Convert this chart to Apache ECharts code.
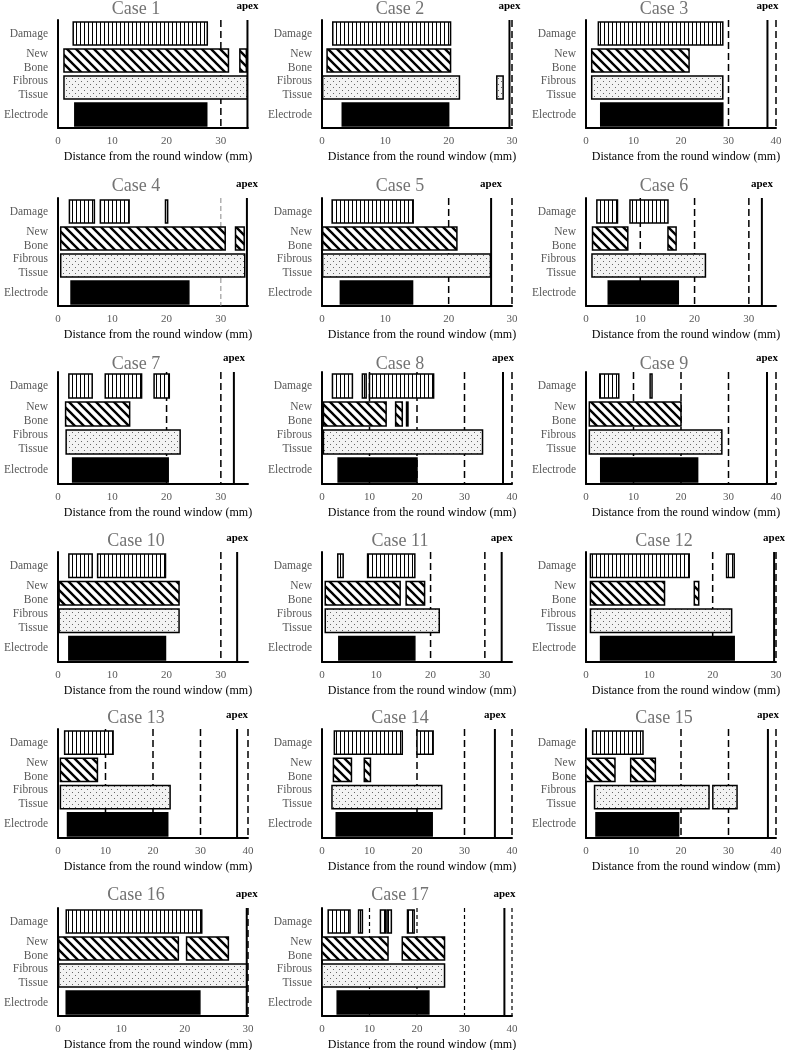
<!DOCTYPE html>
<html><head><meta charset="utf-8">
<script src="https://cdn.jsdelivr.net/npm/echarts/dist/echarts.min.js"></script>
<style>html,body{margin:0;padding:0;background:#fff}#chart{width:786px;height:1050px}</style>
</head><body><div id="chart"></div>
<script>
// ---------------- DATA ----------------
const caseNames = ['Case 1','Case 2','Case 3','Case 4','Case 5','Case 6','Case 7','Case 8','Case 9',
  'Case 10','Case 11','Case 12','Case 13','Case 14','Case 15','Case 16','Case 17'];
const categories = ['Damage', 'New\nBone', 'Fibrous\nTissue', 'Electrode'];
const axisTitle = 'Distance from the round window (mm)';
const tickStep = 10;
const axisMax = [35,30,40,35,30,35,35,40,40,35,35,30,40,40,40,30,40];
const apexPos = [34.9,29.6,38.2,34.8,26.7,32.4,32.4,38.1,38.1,33.0,33.1,29.7,37.7,36.4,38.3,29.8,38.4];
const dashedPos = [[30],[30],[30,40],[30],[20,30],[10,20,30],[20,30],[10,20,30,40],[10,20,30,40],
  [30],[20,30],[20,30],[10,20,30,40],[20,30,40],[20,30,40],[30],[10,20,30,40]];
const damage = [
  [[2.8,27.5]],
  [[1.7,20.3]],
  [[2.6,28.8]],
  [[2.1,6.7],[7.8,13.1],[19.8,20.2]],
  [[1.6,14.4]],
  [[2.0,5.8],[8.1,15.1]],
  [[2.0,6.3],[8.7,15.4],[17.7,20.5]],
  [[2.2,6.4],[8.5,9.3],[10.0,23.5]],
  [[2.9,6.9],[13.5,13.9]],
  [[2.0,6.3],[7.3,19.8]],
  [[2.9,3.9],[8.4,17.1]],
  [[0.7,16.3],[22.2,23.4]],
  [[1.4,11.6]],
  [[2.6,16.9],[20.0,23.4]],
  [[1.4,12.0]],
  [[1.3,22.7]],
  [[1.3,5.9],[7.7,8.5],[12.3,13.4],[13.7,14.6],[18.0,19.4]]
];
const newBone = [
  [[1.1,31.4],[33.5,34.7]],
  [[0.8,20.3]],
  [[1.2,21.7]],
  [[0.5,30.8],[32.7,34.3]],
  [[0.1,21.3]],
  [[1.2,7.7],[15.1,16.6]],
  [[1.4,13.2]],
  [[0.3,13.5],[15.5,16.9],[17.8,18.1]],
  [[0.7,20.0]],
  [[0.2,22.3]],
  [[0.6,14.4],[15.5,18.9]],
  [[0.7,12.4],[17.1,17.8]],
  [[0.5,8.3]],
  [[2.4,6.2],[8.9,10.2]],
  [[0.0,6.1],[9.4,14.6]],
  [[0.1,19.0],[20.3,26.9]],
  [[0.0,13.9],[16.9,25.8]]
];
const fibrous = [
  [[1.1,34.9]],
  [[0.1,21.7],[27.6,28.6]],
  [[1.2,28.8]],
  [[0.5,34.4]],
  [[0.1,26.6]],
  [[1.1,22.0]],
  [[1.5,22.5]],
  [[0.3,33.8]],
  [[0.7,28.6]],
  [[0.2,22.3]],
  [[0.6,21.6]],
  [[0.7,23.0]],
  [[0.5,23.6]],
  [[2.1,25.2]],
  [[1.8,25.9],[26.7,31.8]],
  [[0.1,29.8]],
  [[0.0,25.8]]
];
const electrode = [
  [[3.1,27.4]],[[3.2,20.0]],[[3.1,28.8]],[[2.4,24.1]],[[2.9,14.3]],[[4.1,17.0]],
  [[2.7,20.3]],[[3.4,20.0]],[[3.1,23.5]],[[2.0,19.8]],[[3.1,17.1]],[[2.3,23.4]],
  [[2.0,23.1]],[[3.0,23.2]],[[2.1,19.5]],[[1.3,22.4]],[[3.2,22.5]]
];

// ---------------- LAYOUT / STYLE ----------------
const colLeft = [58, 322, 586];
const plotWidth = 190;
const rowTop = [20, 198, 372, 552, 729, 908];
const rowHeight = [108, 108, 112, 110, 109, 108];
const rowTitleY = [9, 186, 364, 541, 718, 895];
const FONT = '"Liberation Serif", "Times New Roman", serif';
const dashStyle = {};          // default style
const dashStyleOverride = {3: {stroke:'#888', lineWidth:1, lineDash:[5,3]}, 16: {stroke:'#000', lineWidth:1.2, lineDash:[4,3]}};

function makePattern(kind) {
  const c = document.createElement('canvas');
  const ctx = c.getContext('2d');
  if (kind === 'vert') {
    c.width = 4; c.height = 4;
    ctx.fillStyle = '#fff'; ctx.fillRect(0,0,4,4);
    ctx.fillStyle = '#000'; ctx.fillRect(0,0,1,4);
  } else if (kind === 'diag') {
    const s = 9;
    c.width = s; c.height = s;
    ctx.fillStyle = '#fff'; ctx.fillRect(0,0,s,s);
    ctx.strokeStyle = '#000'; ctx.lineWidth = 2.4;
    ctx.beginPath();
    ctx.moveTo(-2,-2); ctx.lineTo(s+2,s+2);
    ctx.moveTo(-2,s-2); ctx.lineTo(2,s+2);
    ctx.moveTo(s-2,-2); ctx.lineTo(s+2,2);
    ctx.stroke();
  } else if (kind === 'dots') {
    c.width = 6; c.height = 6;
    ctx.fillStyle = '#f3f3f3'; ctx.fillRect(0,0,6,6);
    ctx.fillStyle = '#666'; ctx.fillRect(0,0,1,1); ctx.fillRect(3,3,1,1);
  }
  return {image: c, repeat: 'repeat'};
}
const fills = [makePattern('vert'), makePattern('diag'), makePattern('dots'), '#000'];

// ---------------- BUILD OPTION ----------------
const grids = [], xAxes = [], yAxes = [], series = [], graphics = [];
caseNames.forEach((name, i) => {
  const row = Math.floor(i / 3), col = i % 3;
  const left = colLeft[col], top = rowTop[row], h = rowHeight[row];
  grids.push({left: left, top: top, width: plotWidth, height: h, outerBoundsMode: 'none', containLabel: false});
  xAxes.push({
    type: 'value', gridIndex: i, min: 0, max: axisMax[i], interval: tickStep,
    axisLine: {show: true, onZero: false, lineStyle: {color: '#000', width: 2}},
    axisTick: {show: false}, splitLine: {show: false},
    axisLabel: {color: '#595959', fontFamily: FONT, fontSize: 11, margin: 8,
      formatter: v => (v % tickStep === 0 ? String(v) : '')},
    name: axisTitle, nameLocation: 'middle', nameGap: 23,
    nameTextStyle: {color: '#000', fontFamily: FONT, fontSize: 12, padding: [0,0,0,10]}
  });
  yAxes.push({
    type: 'category', gridIndex: i, data: categories, inverse: true,
    axisLine: {show: true, lineStyle: {color: '#000', width: 2}},
    axisTick: {show: false}, splitLine: {show: false},
    axisLabel: {color: '#595959', fontFamily: FONT, fontSize: 11.5, lineHeight: 14, margin: 10, align: 'right'}
  });
  graphics.push({type: 'text', x: left + 78, y: rowTitleY[row], silent: true,
    style: {text: name, fontFamily: FONT, fontSize: 18, fill: '#737373', align: 'center', verticalAlign: 'middle'}});

  // dashed reference lines (behind bars)
  const ds = Object.assign({stroke: '#000', lineWidth: 1.5, lineDash: [7,4]}, dashStyleOverride[i] || {});
  series.push({
    type: 'custom', xAxisIndex: i, yAxisIndex: i, z: 1, silent: true, animation: false,
    encode: {x: 0, y: 1},
    data: dashedPos[i].map(v => [v, 0]),
    renderItem: (params, api) => {
      const x = api.coord([api.value(0), 0])[0];
      const cs = params.coordSys;
      return {type: 'line', shape: {x1: x, y1: cs.y, x2: x, y2: cs.y + cs.height}, style: ds};
    }
  });

  // bars
  const barData = [];
  [damage, newBone, fibrous, electrode].forEach((arr, cat) => {
    arr[i].forEach(seg => barData.push([cat, seg[0], seg[1]]));
  });
  series.push({
    type: 'custom', xAxisIndex: i, yAxisIndex: i, z: 2, silent: true, animation: false, clip: true,
    encode: {x: [1, 2], y: 0},
    data: barData,
    renderItem: (params, api) => {
      const cat = api.value(0);
      const p0 = api.coord([api.value(1), cat]);
      const p1 = api.coord([api.value(2), cat]);
      const bh = api.size([0, 1])[1] * 0.85;
      return {type: 'rect', shape: {x: p0[0], y: p0[1] - bh / 2, width: p1[0] - p0[0], height: bh},
        style: {fill: fills[cat], stroke: '#000', lineWidth: 1.5}};
    }
  });

  // apex line with label
  series.push({
    type: 'custom', xAxisIndex: i, yAxisIndex: i, z: 3, silent: true, animation: false, clip: false,
    encode: {x: 0, y: 1},
    data: [[apexPos[i], 0]],
    renderItem: (params, api) => {
      const x = api.coord([api.value(0), 0])[0];
      const cs = params.coordSys;
      return {type: 'group', children: [
        {type: 'line', shape: {x1: x, y1: cs.y, x2: x, y2: cs.y + cs.height}, style: {stroke: '#000', lineWidth: 2}},
        {type: 'text', x: x, y: cs.y - 8, style: {text: 'apex', fontFamily: FONT, fontWeight: 'bold', fontSize: 11,
          fill: '#000', align: 'center', verticalAlign: 'bottom'}}
      ]};
    }
  });
});

const chart = echarts.init(document.getElementById('chart'), null, {renderer: 'canvas'});
chart.setOption({
  backgroundColor: '#fff',
  animation: false,
  grid: grids, xAxis: xAxes, yAxis: yAxes, series: series,
  graphic: graphics
});
</script></body></html>
